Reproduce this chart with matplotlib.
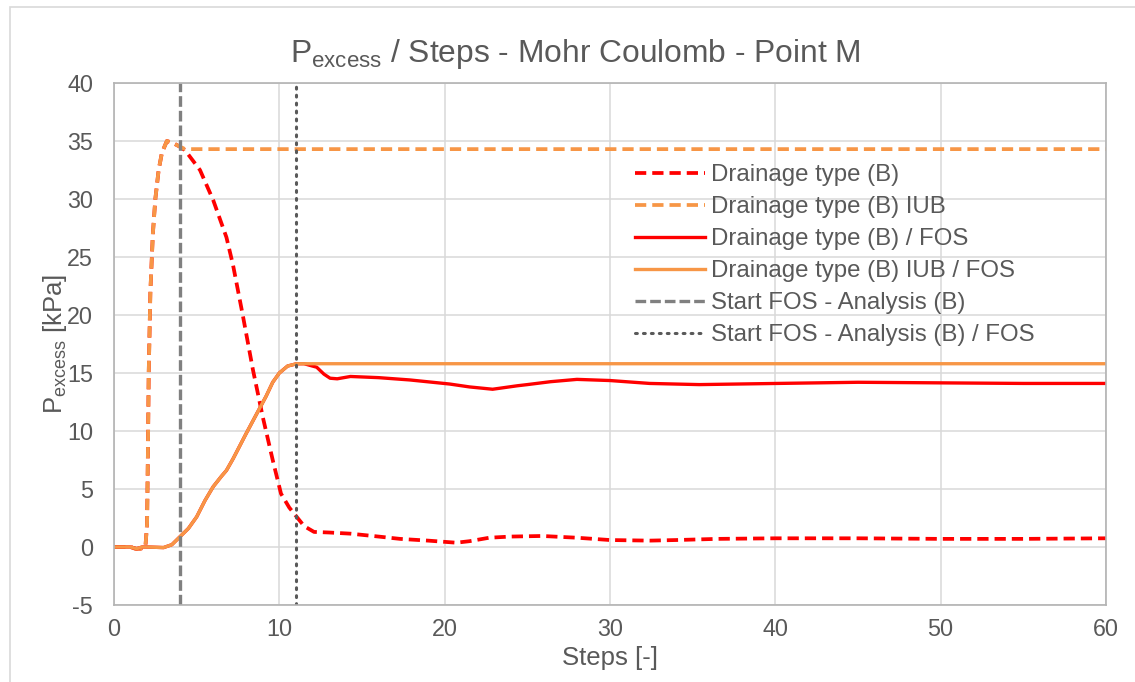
import matplotlib
matplotlib.use('Agg')
import matplotlib.pyplot as plt
import matplotlib.patches as mpatches

plt.rcParams['font.family'] = ['Liberation Sans', 'DejaVu Sans']
plt.rcParams['mathtext.fontset'] = 'custom'
plt.rcParams['mathtext.rm'] = 'Liberation Sans'
plt.rcParams['mathtext.it'] = 'Liberation Sans'
plt.rcParams['axes.unicode_minus'] = False

### data
# Drainage type (B) IUB - dashed orange
x_iub = [0, 1, 1.3, 1.6, 1.9, 2.0, 2.05, 2.1, 2.2, 2.35, 2.5, 2.7, 2.9, 3.2, 3.6, 4.0, 4.3, 60]
y_iub = [0, 0, -0.15, -0.15, 0, 2, 8, 15, 22, 27, 30, 32.5, 34, 35, 34.8, 34.5, 34.3, 34.3]

# Drainage type (B) - dashed red
x_b = [0, 1, 1.3, 1.6, 1.9, 2.0, 2.05, 2.1, 2.2, 2.35, 2.5, 2.7, 2.9, 3.2, 3.6, 4.0, 4.3,
       5.2, 6.0, 6.8, 7.2, 7.8, 8.4, 9.0, 9.6, 10.1, 10.6, 11.05, 11.5, 12.1, 13, 14.3,
       16, 17.3, 19, 20.7, 21.5, 22.7, 24, 25.9, 28, 30, 32.4, 34, 36.5, 40, 45, 50, 55, 60]
y_b = [0, 0, -0.15, -0.15, 0, 2, 8, 15, 22, 27, 30, 32.5, 34, 35, 34.8, 34.5, 34.2,
       32.5, 29.9, 26.7, 24.3, 19.9, 15.3, 11.2, 7.5, 4.6, 3.4, 2.6, 1.8, 1.3, 1.25, 1.15,
       0.9, 0.7, 0.55, 0.37, 0.5, 0.8, 0.9, 0.95, 0.8, 0.6, 0.55, 0.6, 0.7, 0.75, 0.75, 0.7, 0.7, 0.75]

# Drainage type (B) IUB / FOS - solid orange
x_iub_fos = [0, 1, 1.37, 1.7, 2, 3, 3.5, 4.0, 4.5, 5.0, 5.5, 6.0, 6.5, 6.8, 7.2, 8.0,
             8.6, 9.2, 9.6, 10.0, 10.5, 11.05, 60]
y_iub_fos = [0, 0, -0.15, 0, 0, -0.05, 0.2, 0.9, 1.6, 2.6, 4.0, 5.2, 6.1, 6.6, 7.6, 9.8,
             11.4, 13.0, 14.2, 15.0, 15.6, 15.8, 15.8]

# Drainage type (B) / FOS - solid red
x_fos = [0, 1, 1.37, 1.7, 2, 3, 3.5, 4.0, 4.5, 5.0, 5.5, 6.0, 6.5, 6.8, 7.2, 8.0,
         8.6, 9.2, 9.6, 10.0, 10.5, 11.05, 11.5, 12.0, 12.26, 12.7, 13.07, 13.5, 14.3,
         16, 17.9, 20.3, 21.5, 22.9, 24.4, 25, 26.4, 28, 30, 32.4, 35.4, 40.1, 45, 50, 55, 60]
y_fos = [0, 0, -0.15, 0, 0, -0.05, 0.2, 0.9, 1.6, 2.6, 4.0, 5.2, 6.1, 6.6, 7.6, 9.8,
         11.4, 13.0, 14.2, 15.0, 15.6, 15.8, 15.8, 15.6, 15.5, 14.9, 14.55, 14.5, 14.7,
         14.6, 14.4, 14.05, 13.8, 13.6, 13.9, 14.0, 14.25, 14.45, 14.35, 14.1, 14.0, 14.1,
         14.2, 14.15, 14.1, 14.1]

# start of FOS analysis
x_start = [4, 4]
x_start_fos = [11, 11]
y_start = [-5, 40]

x_ticks = [0, 10, 20, 30, 40, 50, 60]
y_ticks = [-5, 0, 5, 10, 15, 20, 25, 30, 35, 40]

txt = '#595959'
red = '#ff0000'
orange = '#f79646'

fig = plt.figure(figsize=(11.35, 6.82), dpi=100)
ax = fig.add_axes([114/1135, 1-605/682, (1106-114)/1135, (605-83)/682])

ax.plot(x_b, y_b, color=red, lw=2.7, dashes=(3, 1.6), label='Drainage type (B)')
ax.plot(x_iub, y_iub, color=orange, lw=2.7, dashes=(3, 1.6), label='Drainage type (B) IUB')
ax.plot(x_fos, y_fos, color=red, lw=2.4, label='Drainage type (B) / FOS')
ax.plot(x_iub_fos, y_iub_fos, color=orange, lw=2.4, label='Drainage type (B) IUB / FOS')
ax.plot(x_start, y_start, color='#808080', lw=2.4, dashes=(3.2, 1.2), label='Start FOS - Analysis (B)')
ax.plot(x_start_fos, y_start, color='#595959', lw=2.2, dashes=(0.6, 2.0),
        dash_capstyle='round', label='Start FOS - Analysis (B) / FOS')

ax.set_xlim(0, 60)
ax.set_ylim(-5, 40)
ax.set_xticks(x_ticks)
ax.set_yticks(y_ticks)
ax.tick_params(length=0, labelsize=16.8, labelcolor=txt)
ax.tick_params(axis='y', pad=15)
ax.tick_params(axis='x', pad=9.5)
ax.grid(True, color='#d9d9d9', lw=1.1)
ax.set_axisbelow(True)
for s in ax.spines.values():
    s.set_color('#b3b3b3')
    s.set_linewidth(1.2)

ax.set_xlabel('Steps [-]', fontsize=18.5, color=txt, labelpad=3.5)
fig.text(55/1135, 1-343.6/682, r'P$_{\mathregular{excess}}$ [kPa]', fontsize=18.5, color=txt,
         rotation=90, ha='center', va='center')

fig.text(575/1135, 1-62/682, r'P$_{\mathregular{excess}}$ / Steps - Mohr Coulomb - Point M',
         fontsize=22.9, color=txt, ha='center', va='baseline')

leg = ax.legend(loc='upper left', bbox_to_anchor=(635/1135, 1-164/682),
                bbox_transform=fig.transFigure, frameon=False, fontsize=17.3,
                handlelength=2.9, handletextpad=0.25, labelspacing=0.42,
                borderpad=0, borderaxespad=0)
for t in leg.get_texts():
    t.set_color(txt)

# chart area border
fig.patches.append(mpatches.Rectangle((10/1135, -0.1), 1.2, (682-7)/682 + 0.1,
                                      transform=fig.transFigure, fill=False,
                                      edgecolor='#d9d9d9', lw=1.2))

fig.savefig('out.png', dpi=100)
